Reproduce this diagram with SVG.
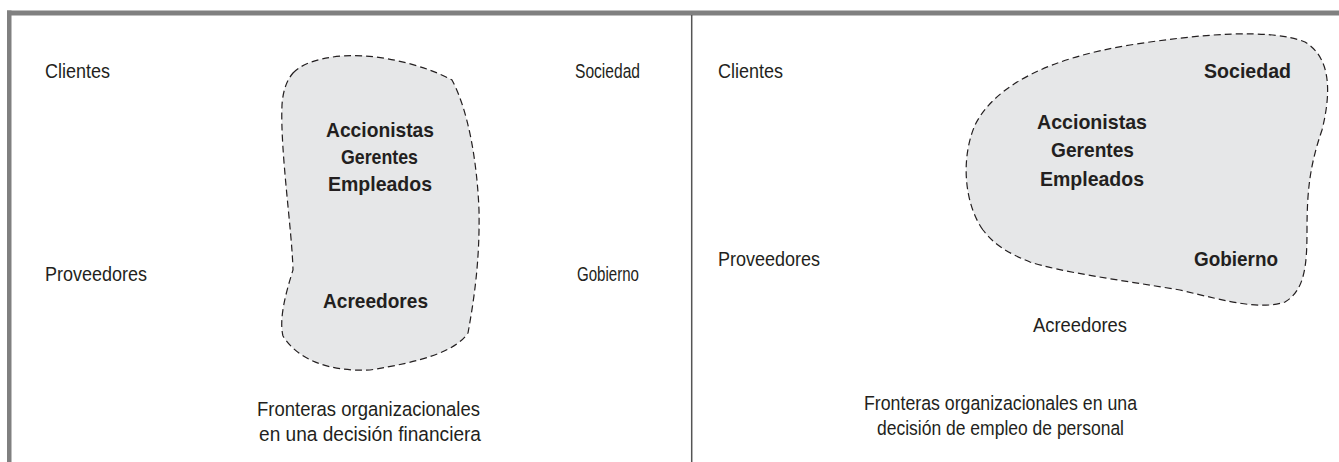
<svg xmlns="http://www.w3.org/2000/svg" width="1339" height="462" viewBox="0 0 1339 462">
<style>
.t{font-family:"Liberation Sans",Arial,sans-serif;font-size:20.5px;fill:#231f20}
.b{font-family:"Liberation Sans",Arial,sans-serif;font-size:20.5px;font-weight:bold;fill:#231f20}
.blob{fill:#e6e7e8;stroke:#231f20;stroke-width:1.2;stroke-dasharray:7 4}
</style>
<rect x="0" y="0" width="1339" height="462" fill="#ffffff"/>
<g id="frame">
<rect x="7" y="10.5" width="1332" height="5" fill="#808080"/>
<rect x="7" y="10.5" width="4.5" height="452" fill="#808080"/>
<line x1="691.7" y1="15" x2="691.7" y2="462" stroke="#555555" stroke-width="1.5"/>
</g>
<g id="left-boundary">
<path class="blob" d="M293,73 C305,60 335,54 365,56 C395,58 430,68 452,80 C468,110 477,160 479,210 C480,260 474,300 468,333 C455,352 420,362 370,370 C330,372 298,360 283,336 C279,320 285,295 293,270 C292,230 280,150 282,105 C283,90 287,80 293,73 Z"/>
<text class="b" x="326" y="137" textLength="108" lengthAdjust="spacingAndGlyphs">Accionistas</text>
<text class="b" x="341" y="164" textLength="77" lengthAdjust="spacingAndGlyphs">Gerentes</text>
<text class="b" x="328" y="191" textLength="104" lengthAdjust="spacingAndGlyphs">Empleados</text>
<text class="b" x="323" y="308" textLength="105" lengthAdjust="spacingAndGlyphs">Acreedores</text>
</g>
<g id="left-outside">
<text class="t" x="45" y="78" textLength="65" lengthAdjust="spacingAndGlyphs">Clientes</text>
<text class="t" x="575" y="78" textLength="65" lengthAdjust="spacingAndGlyphs">Sociedad</text>
<text class="t" x="45" y="281" textLength="102" lengthAdjust="spacingAndGlyphs">Proveedores</text>
<text class="t" x="577" y="281" textLength="62" lengthAdjust="spacingAndGlyphs">Gobierno</text>
</g>
<g id="left-caption">
<text class="t" x="257" y="416" textLength="223" lengthAdjust="spacingAndGlyphs">Fronteras organizacionales</text>
<text class="t" x="259" y="441" textLength="222" lengthAdjust="spacingAndGlyphs">en una decisión financiera</text>
</g>
<g id="right-boundary">
<path class="blob" d="M983,230 C965,205 960,160 975,125 C995,85 1050,58 1130,45 C1200,34 1270,28 1305,42 C1330,57 1332,90 1322,130 C1310,165 1307,190 1307,230 C1307,265 1305,290 1285,302 C1260,310 1230,302 1180,290 C1120,280 1060,272 1030,262 C1005,252 993,243 983,230 Z"/>
<text class="b" x="1204" y="78" textLength="87" lengthAdjust="spacingAndGlyphs">Sociedad</text>
<text class="b" x="1037" y="129" textLength="110" lengthAdjust="spacingAndGlyphs">Accionistas</text>
<text class="b" x="1051" y="157" textLength="83" lengthAdjust="spacingAndGlyphs">Gerentes</text>
<text class="b" x="1040" y="186" textLength="104" lengthAdjust="spacingAndGlyphs">Empleados</text>
<text class="b" x="1194" y="266" textLength="84" lengthAdjust="spacingAndGlyphs">Gobierno</text>
</g>
<g id="right-outside">
<text class="t" x="718" y="78" textLength="65" lengthAdjust="spacingAndGlyphs">Clientes</text>
<text class="t" x="718" y="266" textLength="102" lengthAdjust="spacingAndGlyphs">Proveedores</text>
<text class="t" x="1033" y="332" textLength="94" lengthAdjust="spacingAndGlyphs">Acreedores</text>
</g>
<g id="right-caption">
<text class="t" x="864" y="410" textLength="273" lengthAdjust="spacingAndGlyphs">Fronteras organizacionales en una</text>
<text class="t" x="877" y="435" textLength="247" lengthAdjust="spacingAndGlyphs">decisión de empleo de personal</text>
</g>
</svg>
